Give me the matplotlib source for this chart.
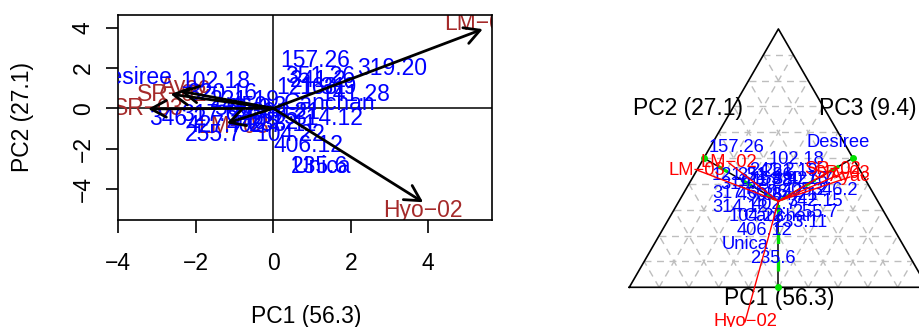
import matplotlib
matplotlib.use("Agg")
import matplotlib.pyplot as plt
from matplotlib.patches import FancyArrowPatch
import numpy as np

plt.rcParams['font.family'] = ['Liberation Sans', 'DejaVu Sans']

# genotype scores (biplot PC1/PC2) and their place in the PC1-PC2-PC3 triangle
genotypes = ["102.18", "104.22", "121.31", "141.28", "157.26", "163.9", "221.19",
             "233.11", "235.6", "241.2", "255.7", "314.12", "317.6", "319.20",
             "320.16", "342.15", "346.2", "351.26", "364.21", "402.7", "405.2",
             "406.12", "427.7", "450.3", "506.2", "Canchan", "Desiree", "Unica"]
gen_pc1 = [-1.50, 0.43, 0.99, 2.11, 1.08, 1.41, -0.73, 0.25, 1.20, 1.16, -1.54, 1.41,
           -1.63, 3.06, -1.32, -0.29, -2.48, 1.20, 0.30, -0.47, -0.08, 0.90, -1.50,
           -0.39, -0.78, 1.46, -3.63, 1.25]
gen_pc2 = [1.32, -1.28, 1.05, 0.66, 2.39, 1.05, 0.41, -0.78, -2.89, 1.40, -1.32, -0.50,
           -0.33, 1.98, 0.75, -0.44, -0.50, 1.56, -0.23, -0.83, -0.68, -1.82, -0.83,
           0.11, 0.00, 0.25, 1.55, -2.89]
gen_tri_x = [0.562, 0.428, 0.371, 0.455, 0.361, 0.488, 0.539, 0.572, 0.482, 0.478, 0.622,
             0.371, 0.354, 0.398, 0.572, 0.622, 0.689, 0.455, 0.539, 0.488, 0.589, 0.455,
             0.606, 0.438, 0.505, 0.505, 0.700, 0.388]
gen_tri_y = [0.427, 0.236, 0.376, 0.353, 0.470, 0.360, 0.387, 0.216, 0.098, 0.393, 0.252,
             0.269, 0.316, 0.343, 0.360, 0.286, 0.326, 0.376, 0.309, 0.276, 0.326, 0.192,
             0.360, 0.309, 0.319, 0.236, 0.487, 0.142]

# environments
environments = ["Ayac", "Hyo−02", "LM−02", "LM−03", "SR−02", "SR−03"]
env_pc1 = [-2.40, 3.87, 5.41, -1.20, -2.65, -3.23]
env_pc2 = [0.85, -4.65, 3.92, -0.74, 0.70, -0.03]
env_lab_pc1 = [-2.28, 3.87, 5.33, -1.03, -2.60, -3.23]
env_lab_pc2 = [1.10, -5.04, 4.22, -0.88, 0.66, 0.00]
env_tri_x = [0.740, 0.388, 0.334, 0.227, 0.683, 0.713]
env_tri_y = [0.370, -0.116, 0.417, 0.393, 0.396, 0.382]

pc_labels = ["PC1 (56.3)", "PC2 (27.1)", "PC3 (9.4)"]
ticks = [-4, -2, 0, 2, 4]

W, H = 919, 327
fig = plt.figure(figsize=(W / 100, H / 100), dpi=100)

# ---- biplot ----
ax = fig.add_axes([118.3 / W, 1 - 220 / H, (491.7 - 118.3) / W, (220 - 15) / H])
ax.set_xlim(-4.0, 5.64)
ax.set_ylim(-5.53, 4.62)
ax.axhline(0, color='black', lw=1.1, zorder=1)
ax.axvline(0, color='black', lw=1.1, zorder=1)

for name, x, y in zip(environments, env_lab_pc1, env_lab_pc2):
    ax.text(x, y, name, color='#A52A2A', fontsize=16.5, ha='center', va='center',
            clip_on=True, zorder=2)
for name, x, y in zip(genotypes, gen_pc1, gen_pc2):
    ax.text(x, y, name, color='blue', fontsize=16.5, ha='center', va='center',
            clip_on=True, zorder=3)
for x, y in zip(env_pc1, env_pc2):
    ax.add_patch(FancyArrowPatch((0, 0), (x, y),
                                 arrowstyle='->,head_length=0.55,head_width=0.3',
                                 mutation_scale=20, lw=2.0, color='black',
                                 shrinkA=0, shrinkB=0, zorder=4))

ax.set_xticks(ticks)
ax.set_yticks(ticks)
for s in ax.spines.values():
    s.set_linewidth(1.2)
ax.tick_params(direction='out', length=9, width=1.2, labelsize=16.5)
ax.tick_params(axis='x', pad=14)
ax.tick_params(axis='y', pad=8, labelrotation=90)
plt.setp(ax.get_yticklabels(), va='center')

fig.text(306 / W, 1 - 316.5 / H, pc_labels[0], fontsize=16.5, ha='center', va='center')
fig.text(23 / W, 1 - 117.5 / H, pc_labels[1], fontsize=16.5, ha='center', va='center',
         rotation=90)

# ---- triplot ----
tax = fig.add_axes([600 / W, 0, 319 / W, 1])
tax.set_xlim(-0.0982, 0.9715)
tax.set_ylim(-0.1331, 0.9631)
tax.axis('off')

h = np.sqrt(3) / 2
for k in range(1, 10):
    f = k / 10
    tax.plot([f / 2, 1 - f / 2], [f * h, f * h], color='#BEBEBE', lw=1, dashes=(5, 4))
    tax.plot([f, f + 0.5 * (1 - f)], [0, h * (1 - f)], color='#BEBEBE', lw=1, dashes=(5, 4))
    tax.plot([f, f / 2], [0, h * f], color='#BEBEBE', lw=1, dashes=(5, 4))

tax.plot([0, 1, 0.5, 0], [0, 0, h, 0], color='black', lw=1.2)

cx, cy = 0.5, h / 3
mids = [(0.5, 0.0), (0.25, h / 2), (0.75, h / 2)]
for mx, my in mids:
    tax.plot([cx, mx], [cy, my], color='black', lw=1.1, zorder=3)
    tax.plot([mx, cx], [my, cy], color='#00E000', lw=2.4,
             ls=(3.45, (3.45, 4.8)), zorder=4)
    tax.plot(mx, my, 'o', color='#00E000', ms=4, zorder=5)

for name, x, y in zip(genotypes, gen_tri_x, gen_tri_y):
    tax.text(x, y, name, color='blue', fontsize=13.2, ha='center', va='center', zorder=6)
for name, x, y in zip(environments, env_tri_x, env_tri_y):
    tax.plot([cx, x], [cy, y], color='red', lw=1.0, zorder=7)
    tax.text(x, y, name, color='red', fontsize=13.2, ha='center', va='center', zorder=8)

tax.text(0.502, -0.036, pc_labels[0], fontsize=16.5, ha='center', va='center')
tax.text(0.197, 0.601, pc_labels[1], fontsize=16.5, ha='center', va='center')
tax.text(0.800, 0.601, pc_labels[2], fontsize=16.5, ha='center', va='center')

fig.savefig("out.png", dpi=100)
